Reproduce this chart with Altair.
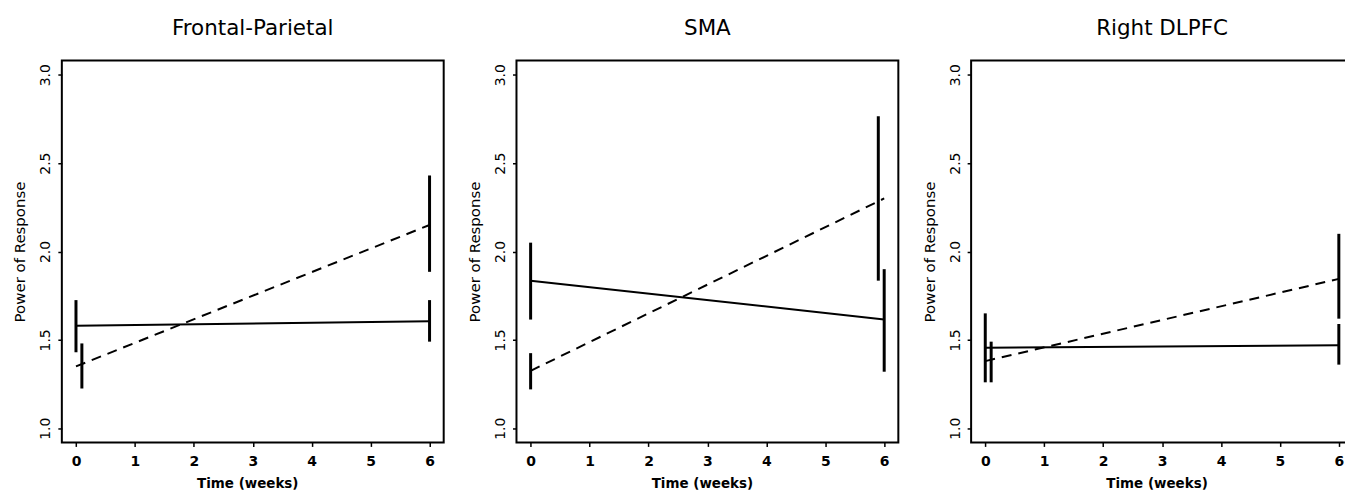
import altair as alt
import pandas as pd

panels = ["Frontal-Parietal", "SMA", "Right DLPFC"]
times = [0, 6]
solid_mean = [[1.58, 1.605], [1.835, 1.615], [1.455, 1.47]]
dashed_mean = [[1.35, 2.15], [1.325, 2.30], [1.38, 1.845]]
solid_bar_x = [[0, 6], [0, 6], [0, 6]]
solid_lo = [[1.43, 1.49], [1.615, 1.32], [1.26, 1.36]]
solid_hi = [[1.725, 1.725], [2.05, 1.90], [1.65, 1.59]]
dashed_bar_x = [[0.1, 6], [0, 5.9], [0.1, 6]]
dashed_lo = [[1.225, 1.885], [1.22, 1.835], [1.26, 1.62]]
dashed_hi = [[1.48, 2.43], [1.425, 2.765], [1.49, 2.10]]
x_ticks = [0, 1, 2, 3, 4, 5, 6]
y_ticks = [1.0, 1.5, 2.0, 2.5, 3.0]

W = 383
H = 383
FONT = "DejaVu Sans"


def make_panel(i):
    solid = pd.DataFrame({"time": times, "power": solid_mean[i]})
    dashed = pd.DataFrame({"time": times, "power": dashed_mean[i]})
    bars = pd.DataFrame({
        "time": solid_bar_x[i] + dashed_bar_x[i],
        "lo": solid_lo[i] + dashed_lo[i],
        "hi": solid_hi[i] + dashed_hi[i],
    })
    xscale = alt.Scale(domain=[-0.24, 6.24], nice=False, zero=False)
    yscale = alt.Scale(domain=[0.92, 3.08], nice=False, zero=False)
    xaxis = alt.Axis(values=x_ticks, title="Time (weeks)", format="d",
                     labelFont=FONT, labelFontSize=14, labelFontWeight="bold",
                     titleFont=FONT, titleFontSize=13.5, titleFontWeight="bold",
                     tickSize=4, tickWidth=1.5, labelPadding=8,
                     titleX=186, titleY=41,
                     titleBaseline="middle", titleAlign="center")
    yaxis = alt.Axis(values=y_ticks, title="Power of Response", format=".1f",
                     labelFont=FONT, labelFontSize=14, labelFontWeight="normal",
                     labelAngle=270, labelAlign="center", labelBaseline="bottom",
                     titleFont=FONT, titleFontSize=15, titleFontWeight="normal",
                     tickSize=4, tickWidth=1.5, labelPadding=5,
                     titleAngle=270, titleX=-42, titleY=H / 2,
                     titleBaseline="middle", titleAlign="center")
    x = alt.X("time:Q", scale=xscale, axis=xaxis)
    line_solid = alt.Chart(solid).mark_line(color="black", strokeWidth=2).encode(
        x=x, y=alt.Y("power:Q", scale=yscale, axis=yaxis))
    line_dashed = alt.Chart(dashed).mark_line(color="black", strokeWidth=2,
                                              strokeDash=[10, 7]).encode(
        x=x, y=alt.Y("power:Q", scale=yscale, axis=yaxis))
    rules = alt.Chart(bars).mark_rule(color="black", strokeWidth=3).encode(
        x=x, y=alt.Y("lo:Q", scale=yscale, axis=yaxis), y2="hi:Q")
    return alt.layer(line_solid, line_dashed, rules).properties(
        width=W, height=H,
        title=alt.TitleParams(text=panels[i], font=FONT, fontSize=21.5,
                              fontWeight="normal", anchor="middle",
                              baseline="alphabetic", offset=4, color="black"))


chart = alt.hconcat(*[make_panel(i) for i in range(3)], spacing=22).properties(
    padding={"left": 4, "top": 8, "right": -9, "bottom": 0}
).configure_view(
    stroke="black", strokeWidth=2
).configure_axis(
    grid=False, domain=False, tickColor="black", labelColor="black", titleColor="black"
)

chart.save("out.html", embed_options={"renderer": "svg", "actions": False})
